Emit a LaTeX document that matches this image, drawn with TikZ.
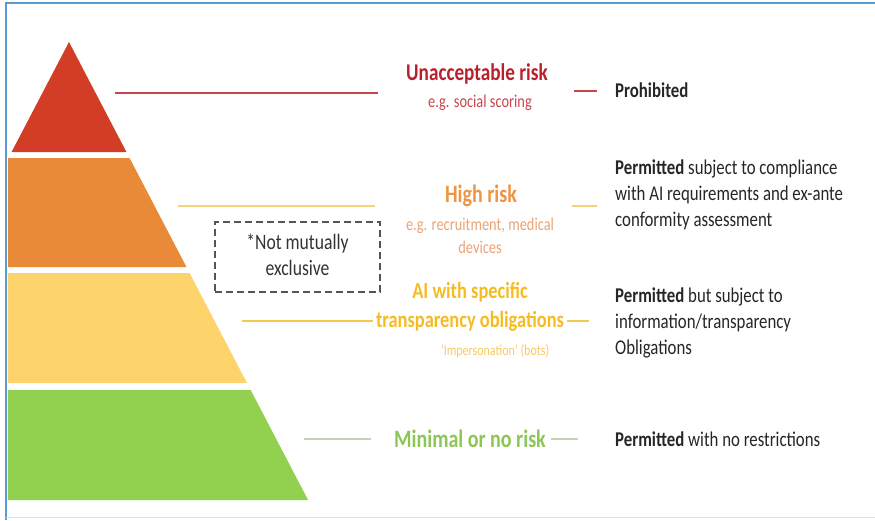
\documentclass[tikz,border=0pt]{standalone}
\usepackage{fontspec}
\setmainfont{Carlito}
\usepackage{graphicx}
\newcommand{\sqz}[1]{\scalebox{0.8}[1]{#1}}
\definecolor{bandred}{HTML}{D13D25}
\definecolor{bandorange}{HTML}{E98A39}
\definecolor{bandyellow}{HTML}{FCD46B}
\definecolor{bandgreen}{HTML}{92D050}
\definecolor{frameblue}{HTML}{5B9BD5}
\definecolor{linered}{HTML}{C8444C}
\definecolor{lineyellow}{HTML}{F2D47E}
\definecolor{linegold}{HTML}{F3C94C}
\definecolor{linegreen}{HTML}{C3D4B4}
\definecolor{txtred}{HTML}{B8202E}
\definecolor{txtredlt}{HTML}{C9444C}
\definecolor{txtorange}{HTML}{EE9442}
\definecolor{txtorangelt}{HTML}{EBA375}
\definecolor{txtgold}{HTML}{F5BC22}
\definecolor{txtgoldlt}{HTML}{F5C966}
\definecolor{txtgreen}{HTML}{8CC654}
\definecolor{boxgray}{HTML}{555555}
\tikzset{
  lbl/.style={inner sep=0pt, font=\fontsize{21}{26}\selectfont, text=black!85},
  mid/.style={inner sep=0pt, font=\bfseries\fontsize{24}{29}\selectfont},
  sub/.style={inner sep=0pt, font=\fontsize{18}{23}\selectfont},
  conn/.style={line width=1.6pt},
}
\begin{document}
\begin{tikzpicture}[x=1pt,y=-1pt]
\useasboundingbox (0,0) rectangle (875,520);
% frame
\draw[frameblue, line width=2pt] (6,520) -- (6,3) -- (875,3);
\draw[gray!25, line width=1pt] (6,517.5) -- (875,517.5);
% pyramid
\fill[bandred] (69,42) -- ({69+0.522*110},152) -- ({69-0.522*110},152) -- cycle;
\fill[bandorange] (8,158) -- ({69+0.522*116},158) -- ({69+0.522*225},267) -- (8,267) -- cycle;
\fill[bandyellow] (8,273) -- ({69+0.522*231},273) -- ({69+0.522*341},383) -- (8,383) -- cycle;
\fill[bandgreen] (8,390) -- ({69+0.522*348},390) -- ({69+0.522*458},500) -- (8,500) -- cycle;
% middle texts
\node[mid, text=txtred, anchor=base] (ua) at (477,80) {\sqz{Unacceptable risk}};
\node[sub, text=txtredlt, anchor=base] (uas) at (480,107) {\sqz{e.g. social scoring}};
\node[mid, font=\bfseries\fontsize{25}{29}\selectfont, text=txtorange, anchor=base] (hr) at (481,202) {\sqz{High risk}};
\node[sub, text=txtorangelt, anchor=base] (hrs) at (480,230) {\sqz{\begin{tabular}[t]{@{}c@{}}e.g. recruitment, medical\\devices\end{tabular}}};
\node[mid, font=\bfseries\fontsize{23}{29}\selectfont, text=txtgold, anchor=base] (ai) at (470,298) {\sqz{\begin{tabular}[t]{@{}c@{}}AI with specific\\transparency obligations\end{tabular}}};
\node[sub, font=\fontsize{15}{18}\selectfont, text=txtgoldlt, anchor=base] (ais) at (495,355) {\sqz{`Impersonation' (bots)}};
\node[mid, font=\bfseries\fontsize{25}{29}\selectfont, text=txtgreen, anchor=base] (mr) at (470,447) {\sqz{Minimal or no risk}};
% right texts
\node[lbl, anchor=base west] (p1) at (615,97) {\sqz{\textbf{Prohibited}}};
\node[lbl, anchor=base west] (p2) at (615,174) {\sqz{\begin{tabular}[t]{@{}l@{}}\textbf{Permitted} subject to compliance\\with AI requirements and ex-ante\\conformity assessment\end{tabular}}};
\node[lbl, anchor=base west] (p3) at (615,302) {\sqz{\begin{tabular}[t]{@{}l@{}}\textbf{Permitted} but subject to\\information/transparency\\Obligations\end{tabular}}};
\node[lbl, anchor=base west] (p4) at (615,446) {\sqz{\textbf{Permitted} with no restrictions}};
% dashed box
\node[draw=boxgray, dashed, dash pattern=on 7pt off 4pt, line width=1.8pt, minimum width=165pt, minimum height=70pt, inner sep=0pt, font=\fontsize{22}{26}\selectfont, text=black!80] (nme) at (297.5,257) {\sqz{\begin{tabular}{@{}c@{}}*Not mutually\\exclusive\end{tabular}}};
% connector end points
\coordinate (r1a) at (115,93); \coordinate (r1b) at (378,93);
\coordinate (r2a) at (574,91); \coordinate (r2b) at (597,91);
\coordinate (h1a) at (178,206); \coordinate (h1b) at (375,206);
\coordinate (h2a) at (572,206); \coordinate (h2b) at (597,206);
\coordinate (t1a) at (242,321); \coordinate (t1b) at (373,321);
\coordinate (t2a) at (567,321); \coordinate (t2b) at (589,321);
\coordinate (m1a) at (304,439); \coordinate (m1b) at (371,439);
\coordinate (m2a) at (551,439); \coordinate (m2b) at (578,439);
\draw[conn, linered] (r1a) -- (r1b);
\draw[conn, linered] (r2a) -- (r2b);
\draw[conn, lineyellow] (h1a) -- (h1b);
\draw[conn, lineyellow] (h2a) -- (h2b);
\draw[conn, linegold] (t1a) -- (t1b);
\draw[conn, linegold] (t2a) -- (t2b);
\draw[conn, linegreen] (m1a) -- (m1b);
\draw[conn, linegreen] (m2a) -- (m2b);
\end{tikzpicture}
\end{document}
